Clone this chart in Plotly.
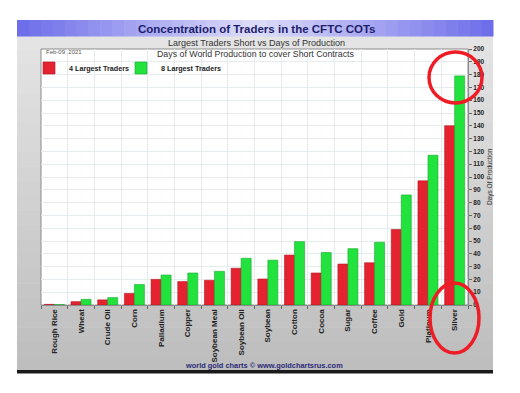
import plotly.graph_objects as go

categories = ["Rough Rice", "Wheat", "Crude Oil", "Corn", "Palladium", "Copper",
              "Soybean Meal", "Soybean Oil", "Soybean", "Cotton", "Cocoa", "Sugar",
              "Coffee", "Gold", "Platinum", "Silver"]
largest4 = [0.5, 2.6, 4, 9, 20, 18.3, 19.3, 28.7, 20.3, 39, 25, 32, 33, 59, 97, 140]
largest8 = [0.3, 4.4, 5.8, 16, 23.4, 25, 26.3, 36.5, 35, 49.5, 41, 44, 49, 86, 117, 179]
series_names = ["4 Largest Traders", "8 Largest Traders"]
y_ticks = list(range(0, 201, 10))

OFF = 8  # page body margin
W, H = 520 - OFF, 393 - OFF
# plot area in screen pixels
SL, SR, ST, SB = 41, 468, 49, 305
L, R, T, B = SL - OFF, SR - OFF, ST - OFF, SB - OFF


def px(x):
    return (x - SL) / (SR - SL)


def py(y):
    return (SB - y) / (SB - ST)


fig = go.Figure()
fig.add_trace(go.Bar(x=categories, y=largest4, name=series_names[0], legend="legend",
                     marker=dict(color="#e52230", line=dict(color="#b3141e", width=0.6))))
fig.add_trace(go.Bar(x=categories, y=largest8, name=series_names[1], legend="legend2",
                     marker=dict(color="#22e23e", line=dict(color="#17a82c", width=0.6))))

shapes = []
# gray panel with vertical gradient strips
n = 24
top_y, bot_y = 20, 371
for i in range(n):
    y0 = top_y + (bot_y - top_y) * i / n
    y1 = top_y + (bot_y - top_y) * (i + 1) / n + 0.5
    g = int(0xe6 - (0xe6 - 0xbe) * i / (n - 1))
    shapes.append(dict(type="rect", xref="paper", yref="paper", layer="below",
                       x0=px(17), x1=px(493), y0=py(y0), y1=py(y1),
                       line=dict(width=0), fillcolor=f"rgb({g},{g},{g})"))
# header gradient strips
m = 40
for i in range(m):
    x0 = 17 + (493 - 17) * i / m
    x1 = 17 + (493 - 17) * (i + 1) / m + 0.5
    t = abs((i + 0.5) / m - 0.5) * 2
    r = int(0xde - (0xde - 0x6c) * t)
    gg = int(0xde - (0xde - 0x6c) * t)
    b = int(0xfa - (0xfa - 0xea) * t)
    shapes.append(dict(type="rect", xref="paper", yref="paper", layer="below",
                       x0=px(x0), x1=px(x1), y0=py(20), y1=py(36.5),
                       line=dict(width=0), fillcolor=f"rgb({r},{gg},{b})"))
# dark bottom line of panel
shapes.append(dict(type="rect", xref="paper", yref="paper", layer="below",
                   x0=px(17), x1=px(493), y0=py(370), y1=py(373.5),
                   line=dict(width=0), fillcolor="#1a1a1a"))
# plot area
shapes.append(dict(type="rect", xref="paper", yref="paper", layer="below",
                   x0=0, x1=1, y0=0, y1=1,
                   line=dict(color="#8a8a8a", width=1), fillcolor="#ffffff"))
# red highlight circles
shapes.append(dict(type="circle", xref="paper", yref="paper", layer="above",
                   x0=px(429), x1=px(482), y0=py(103), y1=py(52),
                   line=dict(color="#ee1c25", width=3.5)))
shapes.append(dict(type="circle", xref="paper", yref="paper", layer="above",
                   x0=px(430), x1=px(479), y0=py(353), y1=py(283),
                   line=dict(color="#ee1c25", width=3.5)))

FONT = "Liberation Sans, Arial, sans-serif"
annotations = [
    dict(text="<b>Concentration of Traders in the CFTC COTs</b>", x=px(256), y=py(29),
         font=dict(family=FONT, size=11.5, color="#1d1d6b")),
    dict(text="Largest Traders Short vs Days of Production", x=px(256), y=py(42.5),
         font=dict(family=FONT, size=9, color="#333333")),
    dict(text="Days of World Production to cover Short Contracts", x=px(255), y=py(53.5),
         font=dict(family=FONT, size=8.8, color="#333333")),
    dict(text="Feb-09  2021", x=px(44), y=py(52), xanchor="left",
         font=dict(family=FONT, size=6, color="#555555")),
    dict(text="<b>world gold charts © www.goldchartsrus.com</b>", x=px(264), y=py(365),
         font=dict(family=FONT, size=7.4, color="#2a2a78")),
    dict(text="Days Of Production", x=px(490), y=py(177), textangle=-90,
         font=dict(family=FONT, size=6.5, color="#333333")),
]
for a in annotations:
    a.update(xref="paper", yref="paper", showarrow=False)
    a.setdefault("xanchor", "center")
    a.setdefault("yanchor", "middle")

legend_common = dict(orientation="h", y=py(68), xanchor="left", yanchor="middle",
                     bgcolor="rgba(0,0,0,0)",
                     font=dict(family=FONT, size=7.2, color="#222222", weight="bold"),
                     itemwidth=30)

fig.update_layout(
    width=W, height=H,
    margin=dict(l=L, r=W - R, t=T, b=H - B),
    paper_bgcolor="#ffffff",
    plot_bgcolor="rgba(0,0,0,0)",
    barmode="group", bargap=0.25, bargroupgap=0,
    shapes=shapes, annotations=annotations,
    showlegend=True,
    legend=dict(x=px(29), **legend_common),
    legend2=dict(x=px(121), **legend_common),
    font=dict(family=FONT, color="#222222"),
)
fig.update_xaxes(type="category", tickangle=-90, tickson="boundaries", ticks="outside",
                 ticklen=3, tickcolor="#666666", showgrid=True, gridcolor="#e4ecee",
                 gridwidth=1, tickfont=dict(family=FONT, size=8, color="#222222", weight="bold"),
                 showline=True, linecolor="#8a8a8a", mirror=False)
fig.update_yaxes(range=[0, 200], side="right", tickmode="array", tickvals=y_ticks,
                 ticks="outside", ticklen=3,
                 tickcolor="#666666", showgrid=True, gridcolor="#e4ecee", gridwidth=1,
                 tickfont=dict(family=FONT, size=6.5, color="#222222", weight="bold"),
                 showline=True, linecolor="#8a8a8a", zeroline=False)
fig.write_html("out.html")
